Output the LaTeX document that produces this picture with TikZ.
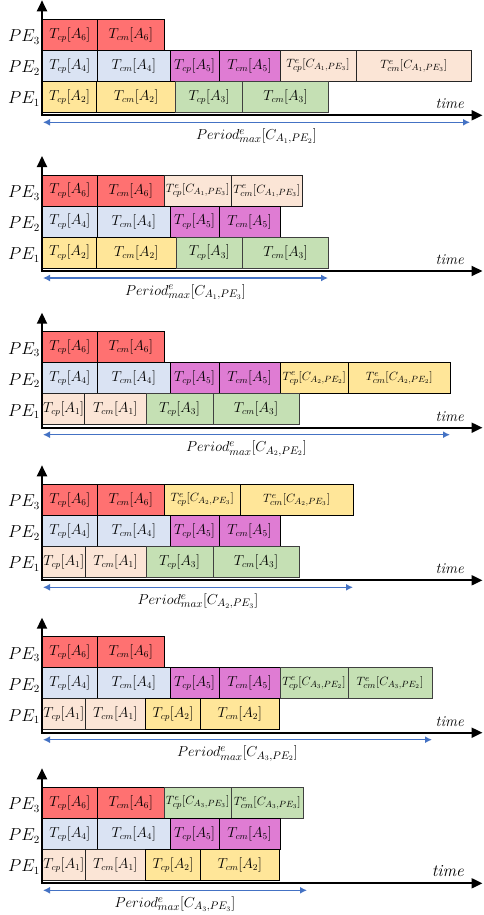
\documentclass[tikz,border=0pt]{standalone}
\usetikzlibrary{arrows.meta}
\definecolor{cR}{HTML}{FF7171}
\definecolor{cB}{HTML}{DAE3F3}
\definecolor{cM}{HTML}{DF7CD3}
\definecolor{cP}{HTML}{FBE5D6}
\definecolor{cY}{HTML}{FFE699}
\definecolor{cG}{HTML}{C5E0B4}
\definecolor{cA}{HTML}{4472C4}
\tikzset{
  gb/.style={draw=black, line width=0.8pt, inner sep=0pt, outer sep=0pt,
    font=\fontsize{13.5}{16}\selectfont, anchor=center},
  sm/.style={font=\fontsize{12.3}{14}\selectfont},
  fR/.style={fill=cR},
  fB/.style={fill=cB},
  fM/.style={fill=cM},
  fP/.style={fill=cP, draw=black!85},
  fY/.style={fill=cY},
  fG/.style={fill=cG, draw=black!75},
  axis/.style={line width=2pt, line join=miter, <->, >={Triangle[width=10pt,length=11pt]}},
  per/.style={draw=cA, line width=1.4pt, <->, >={Latex[width=7pt,length=7pt]}},
  pelab/.style={anchor=base west, font=\fontsize{16}{18}\selectfont, inner sep=0pt},
  perlab/.style={anchor=base, font=\fontsize{15}{17}\selectfont, inner sep=0pt},
  timelab/.style={anchor=base east, inner sep=0pt},
}
% box: style, name, x1, x2, row, text
\newcommand\gbox[6]{\node[gb,#1,minimum width={(#4-#3)*1pt},minimum height=31pt] (#2) at ({(#3+#4)/2},{\PY+(3-#5)*31+15.5}) {#6};}
% frame: id, period end x, period subscript, time font size
\newcommand\panelframe[4]{%
  \coordinate (yt#1) at (42,\PY-19);
  \coordinate (o#1) at (42,\PY+96);
  \coordinate (xt#1) at (482.5,\PY+96);
  \draw[axis] (yt#1) -- (o#1) -- (xt#1);
  \node[pelab] (pe3#1) at (8,\PY+22.5) {$PE_3$};
  \node[pelab] (pe2#1) at (8,\PY+53.5) {$PE_2$};
  \node[pelab] (pe1#1) at (8,\PY+84.5) {$PE_1$};
  \node[timelab,font=\fontsize{#4}{#4}\selectfont\itshape] (tm#1) at (464,\PY+89.5) {time};
  \coordinate (pa#1) at (43,\PY+103);
  \coordinate (pb#1) at (#2,\PY+103);
  \draw[per] (pa#1) -- (pb#1);
  \node[perlab] (pl#1) at ({(43+#2)/2},\PY+120) {$Period^e_{max}[C_{#3}]$};
}
\begin{document}
\begin{tikzpicture}[x=1pt,y=-1pt]
\useasboundingbox (0,0) rectangle (483,915);
% ---------- panel 1
\def\PY{19.3}
\gbox{fR}{a31}{42.5}{97.3}{3}{$T_{cp}[A_6]$}
\gbox{fR}{a32}{97.3}{164.3}{3}{$T_{cm}[A_6]$}
\gbox{fB}{a21}{42.5}{97.3}{2}{$T_{cp}[A_4]$}
\gbox{fB}{a22}{97.3}{170.3}{2}{$T_{cm}[A_4]$}
\gbox{fM}{a23}{170.3}{219}{2}{$T_{cp}[A_5]$}
\gbox{fM}{a24}{219}{280}{2}{$T_{cm}[A_5]$}
\gbox{fP,sm}{a25}{280}{356}{2}{$T^e_{cp}[C_{A_1,PE_3}]$}
\gbox{fP,sm}{a26}{356}{471.7}{2}{$T^e_{cm}[C_{A_1,PE_3}]$}
\gbox{fY}{a11}{42.5}{96.7}{1}{$T_{cp}[A_2]$}
\gbox{fY}{a12}{96.7}{175.7}{1}{$T_{cm}[A_2]$}
\gbox{fG}{a13}{175.7}{242.7}{1}{$T_{cp}[A_3]$}
\gbox{fG}{a14}{242.7}{328.3}{1}{$T_{cm}[A_3]$}
\panelframe{a}{470}{A_1,PE_2}{15}
% ---------- panel 2
\def\PY{175}
\gbox{fR}{b31}{42.5}{97.3}{3}{$T_{cp}[A_6]$}
\gbox{fR}{b32}{97.3}{164.3}{3}{$T_{cm}[A_6]$}
\gbox{fP,sm}{b33}{164.3}{231}{3}{$T^e_{cp}[C_{A_1,PE_3}]$}
\gbox{fP,sm}{b34}{231}{302.7}{3}{$T^e_{cm}[C_{A_1,PE_3}]$}
\gbox{fB}{b21}{42.5}{97.3}{2}{$T_{cp}[A_4]$}
\gbox{fB}{b22}{97.3}{170.3}{2}{$T_{cm}[A_4]$}
\gbox{fM}{b23}{170.3}{219}{2}{$T_{cp}[A_5]$}
\gbox{fM}{b24}{219}{280}{2}{$T_{cm}[A_5]$}
\gbox{fY}{b11}{42.5}{96.7}{1}{$T_{cp}[A_2]$}
\gbox{fY}{b12}{96.7}{176}{1}{$T_{cm}[A_2]$}
\gbox{fG}{b13}{176}{242.7}{1}{$T_{cp}[A_3]$}
\gbox{fG}{b14}{242.7}{328.3}{1}{$T_{cm}[A_3]$}
\panelframe{b}{328}{A_1,PE_3}{15}
% ---------- panel 3
\def\PY{331.7}
\gbox{fR}{c31}{42.5}{97.3}{3}{$T_{cp}[A_6]$}
\gbox{fR}{c32}{97.3}{164.3}{3}{$T_{cm}[A_6]$}
\gbox{fB}{c21}{42.5}{97.3}{2}{$T_{cp}[A_4]$}
\gbox{fB}{c22}{97.3}{170.3}{2}{$T_{cm}[A_4]$}
\gbox{fM}{c23}{170.3}{219}{2}{$T_{cp}[A_5]$}
\gbox{fM}{c24}{219}{280}{2}{$T_{cm}[A_5]$}
\gbox{fY,sm}{c25}{280}{348.7}{2}{$T^e_{cp}[C_{A_2,PE_2}]$}
\gbox{fY,sm}{c26}{348.7}{450}{2}{$T^e_{cm}[C_{A_2,PE_2}]$}
\gbox{fP}{c11}{42.5}{84.7}{1}{$T_{cp}[A_1]$}
\gbox{fP}{c12}{84.7}{146}{1}{$T_{cm}[A_1]$}
\gbox{fG}{c13}{146}{213}{1}{$T_{cp}[A_3]$}
\gbox{fG}{c14}{213}{299}{1}{$T_{cm}[A_3]$}
\panelframe{c}{450}{A_2,PE_2}{15}
% ---------- panel 4
\def\PY{484.3}
\gbox{fR}{d31}{42.5}{97.3}{3}{$T_{cp}[A_6]$}
\gbox{fR}{d32}{97.3}{164.3}{3}{$T_{cm}[A_6]$}
\gbox{fY,sm}{d33}{164.3}{240}{3}{$T^e_{cp}[C_{A_2,PE_3}]$}
\gbox{fY,sm}{d34}{240}{353.3}{3}{$T^e_{cm}[C_{A_2,PE_3}]$}
\gbox{fB}{d21}{42.5}{97.3}{2}{$T_{cp}[A_4]$}
\gbox{fB}{d22}{97.3}{170.3}{2}{$T_{cm}[A_4]$}
\gbox{fM}{d23}{170.3}{219}{2}{$T_{cp}[A_5]$}
\gbox{fM}{d24}{219}{280}{2}{$T_{cm}[A_5]$}
\gbox{fP}{d11}{42.5}{85}{1}{$T_{cp}[A_1]$}
\gbox{fP}{d12}{85}{146}{1}{$T_{cm}[A_1]$}
\gbox{fG}{d13}{146}{213}{1}{$T_{cp}[A_3]$}
\gbox{fG}{d14}{213}{299}{1}{$T_{cm}[A_3]$}
\panelframe{d}{353}{A_2,PE_3}{15}
% ---------- panel 5
\def\PY{636.7}
\gbox{fR}{e31}{42.5}{97.3}{3}{$T_{cp}[A_6]$}
\gbox{fR}{e32}{97.3}{164.3}{3}{$T_{cm}[A_6]$}
\gbox{fB}{e21}{42.5}{97.3}{2}{$T_{cp}[A_4]$}
\gbox{fB}{e22}{97.3}{170.3}{2}{$T_{cm}[A_4]$}
\gbox{fM}{e23}{170.3}{219}{2}{$T_{cp}[A_5]$}
\gbox{fM}{e24}{219}{280}{2}{$T_{cm}[A_5]$}
\gbox{fG,sm}{e25}{280}{348}{2}{$T^e_{cp}[C_{A_3,PE_2}]$}
\gbox{fG,sm}{e26}{348}{432}{2}{$T^e_{cm}[C_{A_3,PE_2}]$}
\gbox{fP}{e11}{42.5}{85}{1}{$T_{cp}[A_1]$}
\gbox{fP}{e12}{85}{145.7}{1}{$T_{cm}[A_1]$}
\gbox{fY}{e13}{145.7}{200.3}{1}{$T_{cp}[A_2]$}
\gbox{fY}{e14}{200.3}{279.3}{1}{$T_{cm}[A_2]$}
\panelframe{e}{432}{A_3,PE_2}{15}
% ---------- panel 6
\def\PY{787.3}
\gbox{fR}{f31}{42.5}{97.3}{3}{$T_{cp}[A_6]$}
\gbox{fR}{f32}{97.3}{164.3}{3}{$T_{cm}[A_6]$}
\gbox{fG,sm}{f33}{164.3}{231}{3}{$T^e_{cp}[C_{A_3,PE_3}]$}
\gbox{fG,sm}{f34}{231}{303.7}{3}{$T^e_{cm}[C_{A_3,PE_3}]$}
\gbox{fB}{f21}{42.5}{97.3}{2}{$T_{cp}[A_4]$}
\gbox{fB}{f22}{97.3}{170.3}{2}{$T_{cm}[A_4]$}
\gbox{fM}{f23}{170.3}{219}{2}{$T_{cp}[A_5]$}
\gbox{fM}{f24}{219}{280}{2}{$T_{cm}[A_5]$}
\gbox{fP}{f11}{42.5}{85}{1}{$T_{cp}[A_1]$}
\gbox{fP}{f12}{85}{145.7}{1}{$T_{cm}[A_1]$}
\gbox{fY}{f13}{145.7}{200.3}{1}{$T_{cp}[A_2]$}
\gbox{fY}{f14}{200.3}{279.3}{1}{$T_{cm}[A_2]$}
\panelframe{f}{307}{A_3,PE_3}{17}
\end{tikzpicture}
\end{document}
